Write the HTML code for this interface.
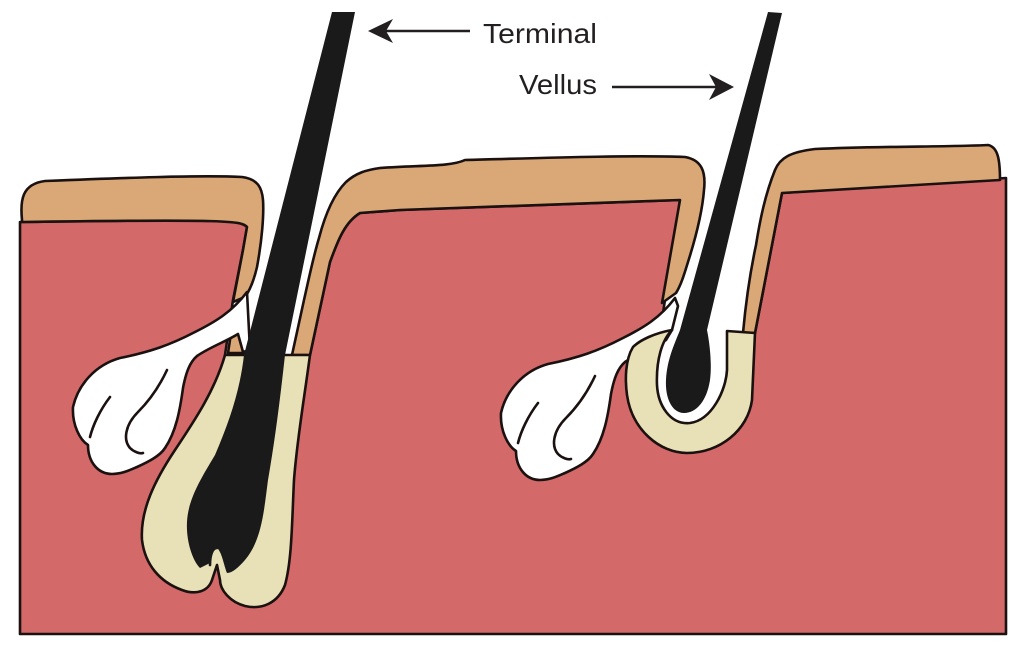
<!DOCTYPE html>
<html><head><meta charset="utf-8"><style>
html,body{margin:0;padding:0;background:#fff;width:1024px;height:647px;overflow:hidden}
svg{display:block}
</style></head><body>
<svg width="1024" height="647" viewBox="0 0 1024 647" xmlns="http://www.w3.org/2000/svg">
<g stroke="#1a1110" stroke-width="2.6" stroke-linejoin="round" stroke-linecap="round">
<!-- dermis -->
<path d="M20,222 L20,634 L1006,634 L1006,178 L782,193 L755,333 L660,333 L680,200 L400,210 L360,213 C345,222 338,240 330,262 L310,355 L225,355 L233,300 L243,250 L247,227 C240,220 230,219 20,222 Z" fill="#d4696a"/>
<!-- white channels -->
<path d="M262,190 L350,178 L325,230 L304,300 L290,356 L233,356 L247,293 Z" fill="#fff" stroke="none"/>
<path d="M705,165 L790,150 L743,334 L660,334 L680,290 Z" fill="#fff" stroke="none"/>
<path d="M672,328 C662,340 656,360 657,385 C658,405 670,425 690,423 C712,420 726,390 727,370 L727,328 Z" fill="#fff" stroke="none"/>
<!-- tan A -->
<path d="M22,220 C20,200 22,184 45,181 C120,178 200,175 242,177 C258,179 262,188 263,200 C264,215 262,240 257,267 C254,280 250,290 245,297 L233,302 L243,250 L247,227 C242,221 232,219 22,222 Z" fill="#d9a876"/>
<!-- tan B -->
<path d="M292,355 L304,300 C309,278 313,258 319,238 C325,215 333,195 346,182 C356,173 366,170 380,168 C420,165 450,167 465,160 C540,158 630,155 685,157 C702,160 706,172 704,190 C702,215 695,240 688,262 C684,275 681,285 676,293 L662,303 L680,200 L400,210 L360,213 C345,222 338,240 330,262 L310,355 Z" fill="#d9a876"/>
<!-- tan C -->
<path d="M743,333 C746,300 750,273 756,245 C760,220 765,195 775,170 C780,158 790,152 815,149 C880,146 950,147 988,145 C998,147 1000,160 1000,180 L782,193 L755,333 Z" fill="#d9a876"/>
<!-- small tan bits below left gland -->
<path d="M228,353 L231,333 L242,325 L244,353 Z" fill="#d9a876"/>
<!-- left gland -->
<path d="M247,292 C232,312 215,322 195,332 C170,345 150,352 120,358 C95,365 78,385 73,407 C72,425 80,440 88,445 C88,462 98,474 112,474 C122,474 130,470 137,467 C148,462 160,456 165,448 C176,432 180,410 183,388 C186,372 190,362 197,356 C210,347 225,342 238,334 L243,352 L250,350 Z" fill="#fff"/>
<path d="M110,397 C100,410 93,425 90,437" fill="none"/>
<path d="M167,370 C160,385 150,400 138,412 C125,425 123,440 130,448 C134,452 140,454 143,453" fill="none"/>
<!-- right gland -->
<g transform="translate(428,6)">
<path d="M247,292 C232,312 215,322 195,332 C170,345 150,352 120,358 C95,365 78,385 73,407 C72,425 80,440 88,445 C88,462 98,474 112,474 C122,474 130,470 137,467 C148,462 160,456 165,448 C176,432 180,410 183,388 C186,372 190,362 197,356 C210,347 225,342 238,334 L244,324 L250,300 Z" fill="#fff"/>
<path d="M110,397 C100,410 93,425 90,437" fill="none"/>
<path d="M167,370 C160,385 150,400 138,412 C125,425 123,440 130,448 C134,452 140,454 143,453" fill="none"/>
</g>
<!-- terminal bulb cream -->
<path d="M225,355 L310,355 C304,400 297,440 294,480 C292,520 292,560 285,585 C278,603 262,610 245,606 C230,602 220,590 220,580 L217,565 L212,580 C208,592 195,595 182,590 C160,582 145,565 142,540 C140,510 155,480 175,450 C195,420 215,390 225,355 Z" fill="#e8e0b6"/>
<!-- terminal hair -->
<path d="M332,12 L355,12 L285,355 C280,400 275,440 268,480 C264,510 262,540 245,560 C238,568 232,573 227,573 C224,566 222,552 217,548 C212,548 210,556 210,563 L200,568 C192,560 186,540 187,522 C188,500 200,480 215,455 C230,420 240,390 244,355 Z" fill="#1a1a1a" stroke="none"/>
<path d="M217,548 C212,548 210,556 210,565" fill="none" stroke="#1a1a1a"/>
<!-- vellus cream U -->
<path d="M672,330 C655,333 640,340 633,347 C625,360 625,380 627,395 C632,430 660,453 687,453 C720,453 748,430 752,400 L755,333 L727,331 L727,370 C726,390 712,420 690,423 C670,425 658,405 657,385 C656,360 662,340 672,330 Z" fill="#e8e0b6"/>
<!-- vellus hair -->
<path d="M768,12 L782,13 L707,330 C710,345 712,365 710,380 C707,400 697,413 684,413 C672,413 665,398 666,380 C667,360 674,345 680,330 Z" fill="#1a1a1a" stroke="none"/>
</g>
<!-- labels and arrows -->
<g fill="#231f20" font-family="'Liberation Sans', sans-serif" font-size="28">
<text x="483" y="43" textLength="114" lengthAdjust="spacingAndGlyphs">Terminal</text>
<text x="519" y="94" textLength="78" lengthAdjust="spacingAndGlyphs">Vellus</text>
</g>
<g stroke="#231f20" stroke-width="2.5">
<line x1="380" y1="31" x2="470" y2="31"/>
<line x1="612" y1="87" x2="722" y2="87"/>
</g>
<g fill="#231f20">
<path d="M368,31 L393,19 L386,31 L393,43 Z"/>
<path d="M734,87 L709,74 L716,87 L709,100 Z"/>
</g>
</svg>
</body></html>
